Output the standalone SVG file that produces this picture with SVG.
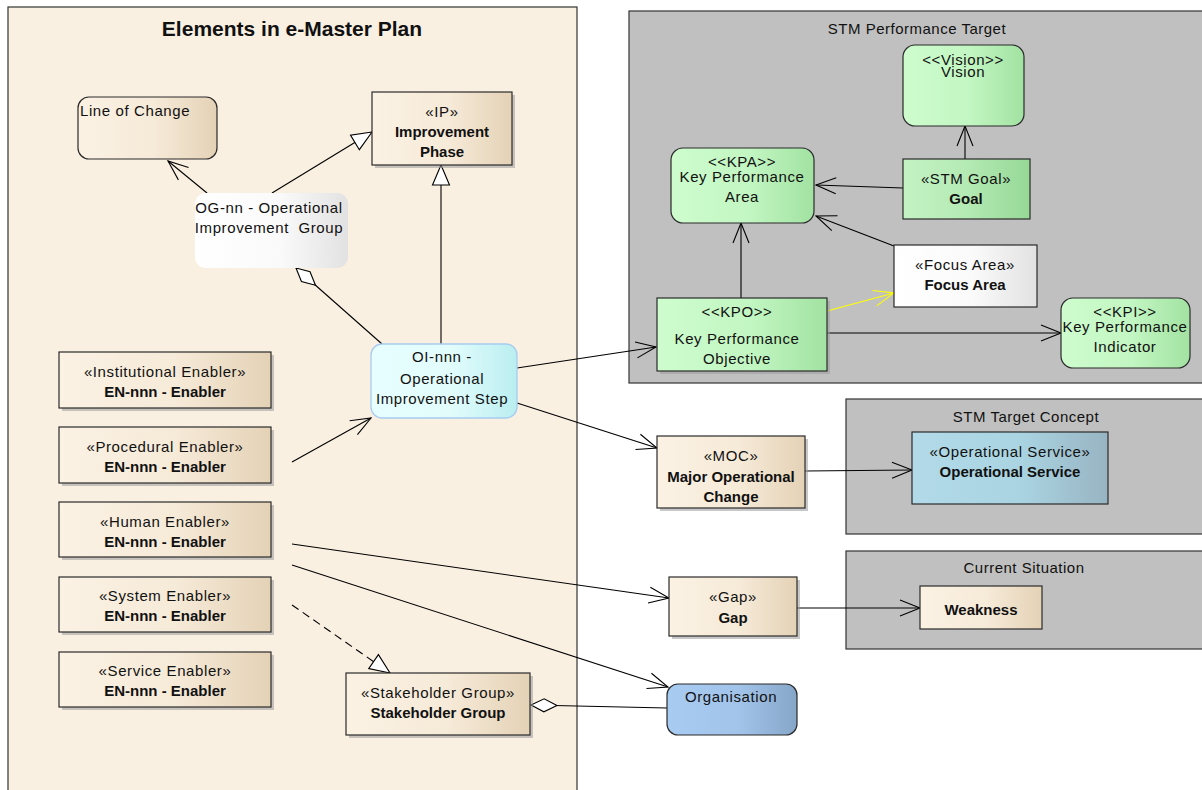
<svg xmlns="http://www.w3.org/2000/svg" width="1202" height="790" viewBox="0 0 1202 790">
<style>
text{font-family:"Liberation Sans",Arial,sans-serif;font-size:15px;fill:#111;text-anchor:middle;letter-spacing:0.6px}
.b{font-weight:bold;letter-spacing:0}
.pt{font-size:15px;letter-spacing:0.5px}
.title{font-size:21px;font-weight:bold;letter-spacing:0}
.nd{stroke:#2a2a2a;stroke-width:1.2}
.sh{fill:#9a9a9a;opacity:0.55}
.pkg{stroke:#333;stroke-width:1.2}
.c{fill:none;stroke:#000;stroke-width:1.1}
</style>
<defs>
<linearGradient id="gTan" x1="0" y1="0" x2="1" y2="0"><stop offset="0" stop-color="#FBF2E4"/><stop offset="0.55" stop-color="#F6EAD8"/><stop offset="1" stop-color="#E4D2B6"/></linearGradient>
<linearGradient id="gGreen" x1="0" y1="0" x2="1" y2="0"><stop offset="0" stop-color="#CEFCCE"/><stop offset="0.55" stop-color="#C2F6C2"/><stop offset="1" stop-color="#A2E2A2"/></linearGradient>
<linearGradient id="gGoal" x1="0" y1="0" x2="1" y2="0"><stop offset="0" stop-color="#C4F2C4"/><stop offset="0.5" stop-color="#B4EAB4"/><stop offset="1" stop-color="#96D896"/></linearGradient>
<linearGradient id="gWhite" x1="0" y1="0" x2="1" y2="0"><stop offset="0" stop-color="#FFFFFF"/><stop offset="0.55" stop-color="#FAFAFA"/><stop offset="1" stop-color="#E2E2E2"/></linearGradient>
<linearGradient id="gCyan" x1="0" y1="0" x2="1" y2="0"><stop offset="0" stop-color="#E6FEFF"/><stop offset="0.55" stop-color="#E2FCFC"/><stop offset="1" stop-color="#BAEEF0"/></linearGradient>
<linearGradient id="gOrg" x1="0" y1="0" x2="1" y2="0"><stop offset="0" stop-color="#A8CBF2"/><stop offset="0.55" stop-color="#A2C4EA"/><stop offset="1" stop-color="#86A6C8"/></linearGradient>
<linearGradient id="gSvc" x1="0" y1="0" x2="1" y2="0"><stop offset="0" stop-color="#B2DAE8"/><stop offset="0.55" stop-color="#AAD4E2"/><stop offset="1" stop-color="#98B4C2"/></linearGradient>
<marker id="open" viewBox="-21 -10 23 20" refX="0" refY="0" markerWidth="23" markerHeight="20" markerUnits="userSpaceOnUse" orient="auto"><path d="M-20,-8 L0,0 L-20,8" fill="none" stroke="#000" stroke-width="1.1"/></marker>
<marker id="openY" viewBox="-21 -10 23 20" refX="0" refY="0" markerWidth="23" markerHeight="20" markerUnits="userSpaceOnUse" orient="auto"><path d="M-20,-8 L0,0 L-20,8" fill="none" stroke="#FFFF00" stroke-width="1.1"/></marker>
<marker id="tri" viewBox="-22 -11 24 22" refX="0" refY="0" markerWidth="24" markerHeight="22" markerUnits="userSpaceOnUse" orient="auto"><path d="M0,0 L-20,-8.5 L-20,8.5 Z" fill="#fff" stroke="#000" stroke-width="1.1"/></marker>
<marker id="dia" viewBox="-2 -8 30 16" refX="0" refY="0" markerWidth="30" markerHeight="16" markerUnits="userSpaceOnUse" orient="auto"><path d="M0,0 L13,-6.5 L26,0 L13,6.5 Z" fill="#fff" stroke="#000" stroke-width="1.1"/></marker>
</defs>
<rect width="1202" height="790" fill="#fff"/>

<g id="pkg-emaster">
<rect class="pkg" x="8" y="7" width="569" height="800" fill="#FAF0E2"/>
<text class="title" x="292" y="36">Elements in e-Master Plan</text>
</g>
<g id="pkg-stm-performance">
<rect class="pkg" x="629" y="11" width="580" height="372" fill="#C0C0C0"/>
<text class="pt" x="917" y="34">STM Performance Target</text>
</g>
<g id="pkg-stm-concept">
<rect class="pkg" x="846" y="399" width="363" height="135" fill="#C0C0C0"/>
<text class="pt" x="1026" y="422">STM Target Concept</text>
</g>
<g id="pkg-current">
<rect class="pkg" x="846" y="551" width="363" height="98" fill="#C0C0C0"/>
<text class="pt" x="1024" y="573">Current Situation</text>
</g>

<g id="connectors">
<path class="c" d="M207,193 L168,161" marker-end="url(#open)"/>
<path class="c" d="M272,193 L372,132" marker-end="url(#tri)"/>
<path class="c" d="M441,344 L441,165" marker-end="url(#tri)"/>
<path class="c" d="M296,268 L382,344" marker-start="url(#dia)"/>
<path class="c" d="M292,462 L371,418" marker-end="url(#open)"/>
<path class="c" d="M517,368 L656,347" marker-end="url(#open)"/>
<path class="c" d="M517,403 L657,448" marker-end="url(#open)"/>
<path class="c" d="M292,544 L669,598" marker-end="url(#open)"/>
<path class="c" d="M292,565 L668,687" marker-end="url(#open)"/>
<path class="c" d="M292,605 L390,673" stroke-dasharray="8,5" marker-end="url(#tri)"/>
<path class="c" d="M531,705 L667,708" marker-start="url(#dia)"/>
<path class="c" d="M805,471 L912,470" marker-end="url(#open)"/>
<path class="c" d="M797,608 L920,608" marker-end="url(#open)"/>
<path class="c" d="M965,159 L965,126" marker-end="url(#open)"/>
<path class="c" d="M903,188 L816,185" marker-end="url(#open)"/>
<path class="c" d="M894,246 L816,216" marker-end="url(#open)"/>
<path class="c" d="M741,298 L741,223" marker-end="url(#open)"/>
<path class="c" d="M827,311 L894,293" style="stroke:#FFFF00" marker-end="url(#openY)"/>
<path class="c" d="M827,333 L1061,333" marker-end="url(#open)"/>
</g>

<g id="line-of-change">
<rect class="nd" x="78" y="97" width="139" height="62" rx="11" fill="url(#gTan)"/>
<text x="80" y="116" style="text-anchor:start">Line of Change</text>
</g>
<g id="improvement-phase">
<rect class="sh" x="375" y="95" width="140" height="73"/>
<rect class="nd" x="372" y="92" width="140" height="73" fill="url(#gTan)"/>
<text x="442" y="117">«IP»</text>
<text class="b" x="442" y="137">Improvement</text>
<text class="b" x="442" y="157">Phase</text>
</g>
<g id="og-group">
<rect x="195" y="193" width="153" height="75" rx="11" fill="url(#gWhite)"/>
<text x="269" y="213">OG-nn - Operational</text>
<text x="269" y="233" style="white-space:pre" xml:space="preserve">Improvement  Group</text>
</g>
<g id="oi-step">
<rect x="371" y="344" width="146" height="74" rx="11" fill="url(#gCyan)" stroke="#A8CCF0" stroke-width="1.3"/>
<text x="442" y="362">OI-nnn -</text>
<text x="442" y="384">Operational</text>
<text x="442" y="404">Improvement Step</text>
</g>
<g id="en-institutional">
<rect class="sh" x="62" y="355" width="212" height="56"/>
<rect class="nd" x="59" y="352" width="212" height="56" fill="url(#gTan)"/>
<text x="165" y="377">«Institutional Enabler»</text>
<text class="b" x="165" y="397">EN-nnn - Enabler</text>
</g>
<g id="en-procedural">
<rect class="sh" x="62" y="430" width="212" height="56"/>
<rect class="nd" x="59" y="427" width="212" height="56" fill="url(#gTan)"/>
<text x="165" y="452">«Procedural Enabler»</text>
<text class="b" x="165" y="472">EN-nnn - Enabler</text>
</g>
<g id="en-human">
<rect class="sh" x="62" y="505" width="212" height="55"/>
<rect class="nd" x="59" y="502" width="212" height="55" fill="url(#gTan)"/>
<text x="165" y="527">«Human Enabler»</text>
<text class="b" x="165" y="547">EN-nnn - Enabler</text>
</g>
<g id="en-system">
<rect class="sh" x="62" y="580" width="212" height="55"/>
<rect class="nd" x="59" y="577" width="212" height="55" fill="url(#gTan)"/>
<text x="165" y="601">«System Enabler»</text>
<text class="b" x="165" y="621">EN-nnn - Enabler</text>
</g>
<g id="en-service">
<rect class="sh" x="62" y="655" width="212" height="55"/>
<rect class="nd" x="59" y="652" width="212" height="55" fill="url(#gTan)"/>
<text x="165" y="676">«Service Enabler»</text>
<text class="b" x="165" y="696">EN-nnn - Enabler</text>
</g>
<g id="stakeholder-group">
<rect class="sh" x="349" y="676" width="184" height="62"/>
<rect class="nd" x="346" y="673" width="184" height="62" fill="url(#gTan)"/>
<text x="438" y="698">«Stakeholder Group»</text>
<text class="b" x="438" y="718">Stakeholder Group</text>
</g>
<g id="moc">
<rect class="sh" x="660" y="439" width="148" height="72"/>
<rect class="nd" x="657" y="436" width="148" height="72" fill="url(#gTan)"/>
<text x="731" y="461">«MOC»</text>
<text class="b" x="731" y="482">Major Operational</text>
<text class="b" x="731" y="502">Change</text>
</g>
<g id="gap">
<rect class="sh" x="672" y="580" width="128" height="59"/>
<rect class="nd" x="669" y="577" width="128" height="59" fill="url(#gTan)"/>
<text x="733" y="602">«Gap»</text>
<text class="b" x="733" y="623">Gap</text>
</g>
<g id="organisation">
<rect class="nd" x="667" y="684" width="130" height="51" rx="11" fill="url(#gOrg)"/>
<text x="731" y="702">Organisation</text>
</g>
<g id="operational-service">
<rect class="nd" x="912" y="432" width="196" height="72" fill="url(#gSvc)"/>
<text x="1010" y="457">«Operational Service»</text>
<text class="b" x="1010" y="477">Operational Service</text>
</g>
<g id="weakness">
<rect class="nd" x="920" y="586" width="122" height="43" fill="url(#gTan)"/>
<text class="b" x="981" y="615">Weakness</text>
</g>
<g id="vision">
<rect class="nd" x="903" y="45" width="121" height="81" rx="12" fill="url(#gGreen)"/>
<text x="963" y="65">&lt;&lt;Vision&gt;&gt;</text>
<text x="963" y="77">Vision</text>
</g>
<g id="kpa">
<rect class="nd" x="671" y="148" width="143" height="75" rx="12" fill="url(#gGreen)"/>
<text x="742" y="167">&lt;&lt;KPA&gt;&gt;</text>
<text x="742" y="182">Key Performance</text>
<text x="742" y="202">Area</text>
</g>
<g id="stm-goal">
<rect class="nd" x="903" y="159" width="127" height="60" fill="url(#gGoal)"/>
<text x="966" y="184">«STM Goal»</text>
<text class="b" x="966" y="204">Goal</text>
</g>
<g id="focus-area">
<rect class="nd" x="894" y="245" width="143" height="62" fill="url(#gWhite)"/>
<text x="965" y="270">«Focus Area»</text>
<text class="b" x="965" y="290">Focus Area</text>
</g>
<g id="kpo">
<rect class="sh" x="660" y="301" width="170" height="73"/>
<rect class="nd" x="657" y="298" width="170" height="73" fill="url(#gGreen)"/>
<text x="737" y="317">&lt;&lt;KPO&gt;&gt;</text>
<text x="737" y="344">Key Performance</text>
<text x="737" y="364">Objective</text>
</g>
<g id="kpi">
<rect class="nd" x="1061" y="298" width="129" height="70" rx="12" fill="url(#gGreen)"/>
<text x="1125" y="317">&lt;&lt;KPI&gt;&gt;</text>
<text x="1125" y="332">Key Performance</text>
<text x="1125" y="352">Indicator</text>
</g>
</svg>
